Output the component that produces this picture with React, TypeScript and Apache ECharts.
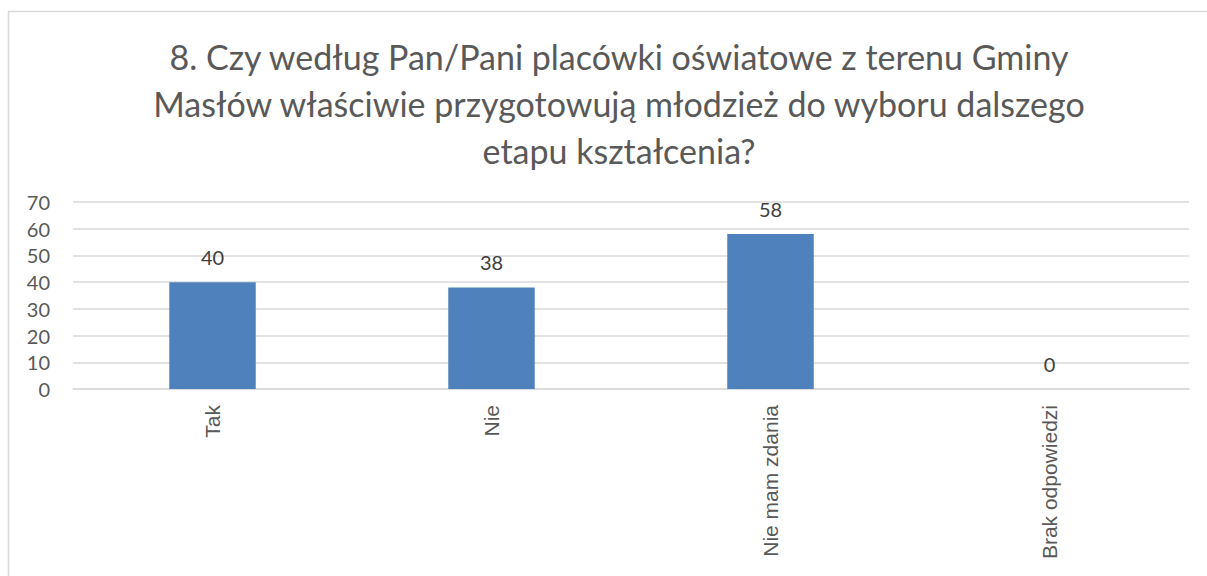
import React, { useEffect, useRef } from "react";
import * as echarts from "echarts";

const categories = ["Tak", "Nie", "Nie mam zdania", "Brak odpowiedzi"];
const values = [40, 38, 58, 0];
const titleLines = [
  "8. Czy według Pan/Pani placówki oświatowe z terenu Gminy",
  "Masłów właściwie przygotowują młodzież do wyboru dalszego",
  "etapu kształcenia?",
];

export default function App() {
  const ref = useRef<HTMLDivElement>(null);
  useEffect(() => {
    if (!ref.current) return;
    const chart = echarts.init(ref.current, null, { renderer: "svg" });
    chart.setOption({
      animation: false,
      backgroundColor: "#ffffff",
      title: {
        text: titleLines.join("\n"),
        left: 614,
        top: 28,
        textAlign: "center",
        textStyle: {
          fontFamily: "Lato",
          fontSize: 34,
          fontWeight: "normal",
          color: "#595959",
          lineHeight: 47,
        },
      },
      graphic: [
        {
          type: "rect",
          shape: { x: 8.5, y: 11.5, width: 1300, height: 700 },
          style: { fill: "none", stroke: "#d9d9d9", lineWidth: 1.5 },
          silent: true,
        },
      ],
      grid: { left: 73, right: 18, top: 202, bottom: 187, containLabel: false },
      xAxis: {
        type: "category",
        data: categories,
        axisLine: { show: true, lineStyle: { color: "#d9d9d9", width: 1.5 } },
        axisTick: { show: false },
        axisLabel: {
          rotate: 90,
          margin: 16,
          fontFamily: "Liberation Sans",
          fontSize: 21,
          color: "#595959",
          interval: 0,
        },
      },
      yAxis: {
        type: "value",
        min: 0,
        max: 70,
        interval: 10,
        axisLine: { show: false },
        axisTick: { show: false },
        splitLine: { lineStyle: { color: "#d9d9d9", width: 1.5 } },
        axisLabel: {
          margin: 23,
          fontFamily: "Lato",
          fontSize: 20,
          color: "#595959",
        },
      },
      series: [
        {
          type: "bar",
          data: values,
          barWidth: "31%",
          itemStyle: { color: "#4f81bd" },
          label: {
            show: true,
            position: "top",
            distance: 15,
            fontFamily: "Lato",
            fontSize: 20,
            color: "#404040",
          },
        },
      ],
    });
    return () => chart.dispose();
  }, []);
  return (
    <div
      ref={ref}
      style={{ position: "fixed", left: 0, top: 0, width: 1207, height: 576 }}
    />
  );
}
